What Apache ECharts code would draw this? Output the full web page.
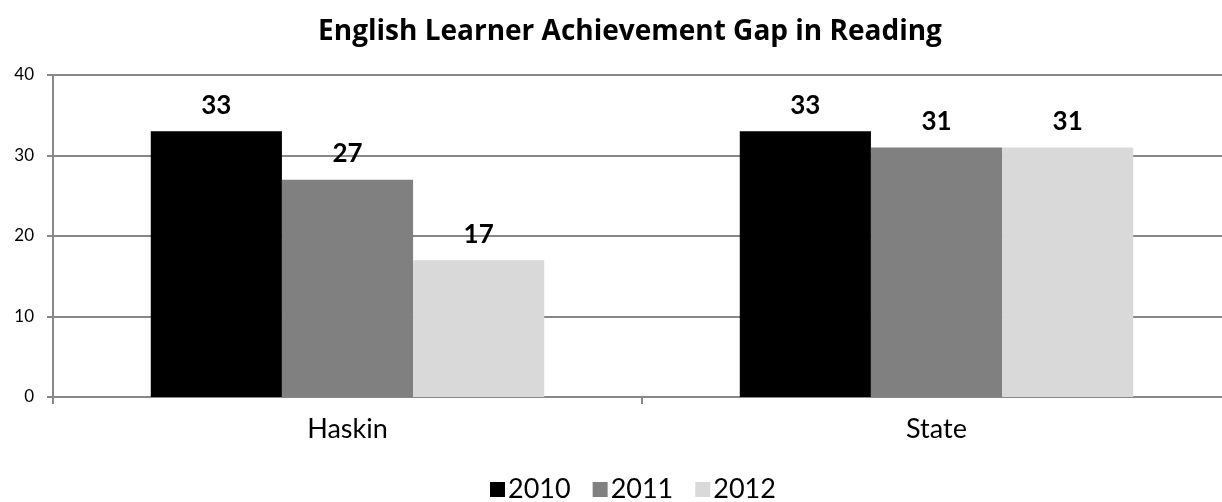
<!DOCTYPE html>
<html>
<head>
<meta charset="utf-8">
<script src="https://cdn.jsdelivr.net/npm/echarts@6/dist/echarts.min.js"></script>
<style>html,body{margin:0;padding:0;background:#fff;overflow:hidden;width:1222px;height:502px;}#c{width:1231px;height:502px;}</style>
</head>
<body>
<div id="c"></div>
<script>
const categories = ['Haskin', 'State'];
const seriesNames = ['2010', '2011', '2012'];
const values2010 = [33, 33];
const values2011 = [27, 31];
const values2012 = [17, 31];
const colors = ['#000000', '#808080', '#d9d9d9'];
const titleText = 'English Learner Achievement Gap in Reading';

const FONT = 'Lato';
const chart = echarts.init(document.getElementById('c'), null, {renderer: 'canvas'});
const dataSets = [values2010, values2011, values2012];
chart.setOption({
  animation: false,
  backgroundColor: '#ffffff',
  title: {
    text: titleText,
    left: 625, top: 13, textAlign: 'center',
    textStyle: {fontFamily: 'Open Sans', fontWeight: 'bold', fontSize: 28, color: '#000'}
  },
  legend: {
    data: seriesNames,
    left: 490, top: 476, padding: 0,
    itemWidth: 15, itemHeight: 15, itemGap: 22,
    icon: 'rect',
    textStyle: {fontFamily: FONT, fontSize: 27, color: '#000', padding: [0,0,0,-2]}
  },
  grid: {left: 53, right: 0, top: 75, bottom: 105, containLabel: false},
  xAxis: {
    type: 'category', data: categories,
    axisLine: {lineStyle: {color: '#888', width: 2}},
    axisTick: {show: true, length: 7, lineStyle: {color: '#888', width: 2}},
    axisLabel: {fontFamily: FONT, fontSize: 27, color: '#000', margin: 19}
  },
  yAxis: {
    type: 'value', min: 0, max: 40, interval: 10,
    axisLine: {show: true, lineStyle: {color: '#888', width: 2}},
    axisTick: {show: true, length: 6, lineStyle: {color: '#888', width: 2}},
    splitLine: {lineStyle: {color: '#888', width: 2}},
    axisLabel: {fontFamily: FONT, fontSize: 17, color: '#000', margin: 19}
  },
  series: seriesNames.map((n, i) => ({
    name: n, type: 'bar', data: dataSets[i],
    barGap: '0%', barCategoryGap: '33.2%',
    itemStyle: {color: colors[i]},
    label: {show: true, position: 'top', distance: 13, fontFamily: FONT, fontWeight: 'bold', fontSize: 26, color: '#000'}
  }))
});
</script>
</body>
</html>
